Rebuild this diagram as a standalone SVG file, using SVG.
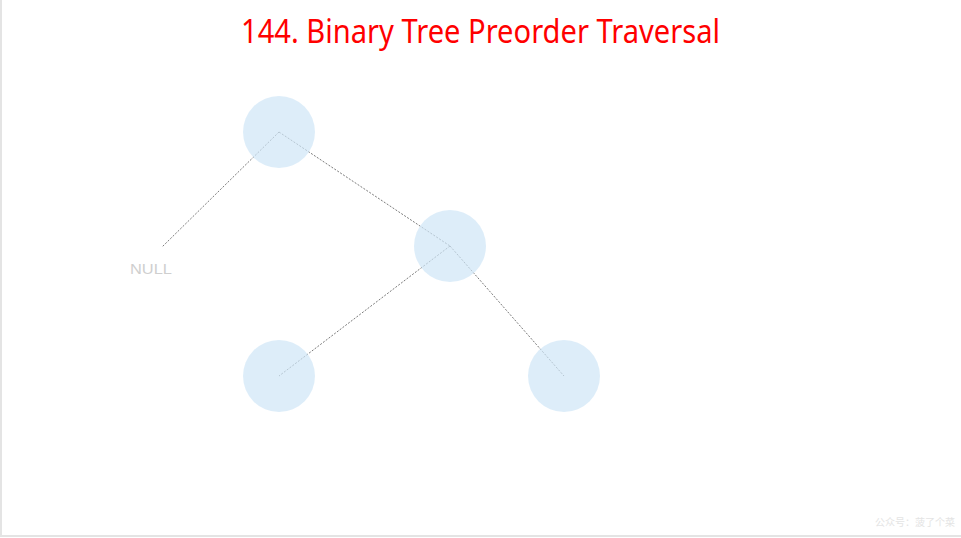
<svg xmlns="http://www.w3.org/2000/svg" width="961" height="538" viewBox="0 0 961 538">
<style>
.node{fill:#cfe5f7;fill-opacity:0.7}
.edge{stroke:#7a7a7a;stroke-width:1;stroke-dasharray:2 1.5;fill:none}
.title{font-family:"Noto Sans","Open Sans",sans-serif;font-size:33px;fill:#ff0000}
.null{font-family:"Liberation Sans",sans-serif;font-size:15px;fill:#cfcfcf}
.wm{font-family:"Noto Sans CJK SC",sans-serif;font-size:10px;fill:#e4e4e4}
</style>
<rect x="0" y="0" width="961" height="538" fill="#ffffff"/>
<path d="M1 0 V536 H961" stroke="#e4e4e4" stroke-width="2" fill="none"/>
<text class="title" x="480.5" y="43" text-anchor="middle" textLength="479" lengthAdjust="spacingAndGlyphs">144. Binary Tree Preorder Traversal</text>
<g id="connectors">
<line class="edge" x1="279" y1="132" x2="162" y2="247"/>
<line class="edge" x1="279" y1="132" x2="450" y2="246"/>
<line class="edge" x1="450" y1="246" x2="279" y2="376"/>
<line class="edge" x1="450" y1="246" x2="564" y2="376"/>
</g>
<g id="node-root"><circle class="node" cx="279" cy="132" r="36"/></g>
<g id="node-right"><circle class="node" cx="450" cy="246" r="36"/></g>
<g id="node-rl"><circle class="node" cx="279" cy="376" r="36"/></g>
<g id="node-rr"><circle class="node" cx="564" cy="376" r="36"/></g>
<g id="node-null"><text class="null" x="151" y="274" text-anchor="middle" textLength="42" lengthAdjust="spacingAndGlyphs">NULL</text></g>
<text class="wm" x="955" y="526" text-anchor="end">公众号：菠了个菜</text>
</svg>
